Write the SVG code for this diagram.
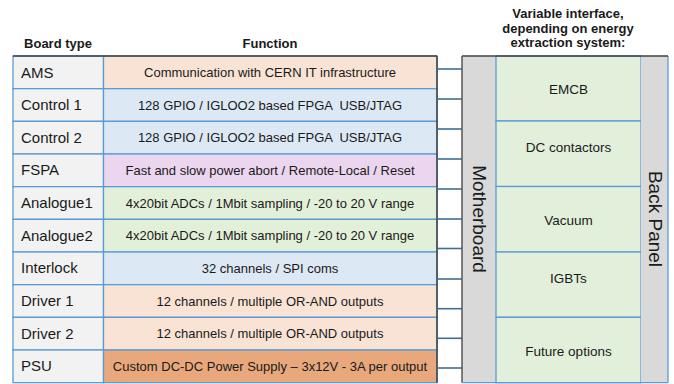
<svg xmlns="http://www.w3.org/2000/svg" width="674" height="384" viewBox="0 0 674 384">
<style>
text{font-family:"Liberation Sans",Arial,sans-serif;fill:#1a1a1a}
.hd{font-weight:bold;font-size:13px}
.bt{font-size:15px}
.fn{font-size:13px;text-anchor:middle}
.cell{stroke:#5b9bd5;stroke-width:1.3}
.name{fill:#f2f2f2}
.ci{font-size:13.5px;text-anchor:middle}
.big{font-size:19px;text-anchor:middle}
.conn line{stroke:#3f6f95;stroke-width:1.6}
</style>
<rect width="674" height="384" fill="#ffffff"/>
<g id="headers">
<text class="hd" x="58" y="48" text-anchor="middle">Board type</text>
<text class="hd" x="270" y="48" text-anchor="middle">Function</text>
<text class="hd" x="568" y="18" text-anchor="middle">Variable interface,</text>
<text class="hd" x="568" y="32.5" text-anchor="middle">depending on energy</text>
<text class="hd" x="568" y="47" text-anchor="middle">extraction system:</text>
</g>
<g id="table">
<g id="ams"><rect class="cell name" x="13" y="56" width="90.5" height="32.67"/><rect class="cell" x="103.5" y="56" width="333.5" height="32.67" fill="#f8e3d5"/><text class="bt" x="21" y="77.5">AMS</text><text class="fn" x="270" y="77">Communication with CERN IT infrastructure</text></g>
<g id="control1"><rect class="cell name" x="13" y="88.67" width="90.5" height="32.67"/><rect class="cell" x="103.5" y="88.67" width="333.5" height="32.67" fill="#dde8f5"/><text class="bt" x="21" y="110">Control 1</text><text class="fn" x="270" y="109.7" xml:space="preserve">128 GPIO / IGLOO2 based FPGA  USB/JTAG</text></g>
<g id="control2"><rect class="cell name" x="13" y="121.33" width="90.5" height="32.67"/><rect class="cell" x="103.5" y="121.33" width="333.5" height="32.67" fill="#dde8f5"/><text class="bt" x="21" y="142.7">Control 2</text><text class="fn" x="270" y="142.3" xml:space="preserve">128 GPIO / IGLOO2 based FPGA  USB/JTAG</text></g>
<g id="fspa"><rect class="cell name" x="13" y="154" width="90.5" height="32.67"/><rect class="cell" x="103.5" y="154" width="333.5" height="32.67" fill="#ecd5ee"/><text class="bt" x="21" y="175.4">FSPA</text><text class="fn" x="270" y="175">Fast and slow power abort / Remote-Local / Reset</text></g>
<g id="analogue1"><rect class="cell name" x="13" y="186.67" width="90.5" height="32.67"/><rect class="cell" x="103.5" y="186.67" width="333.5" height="32.67" fill="#e2efd9"/><text class="bt" x="21" y="208">Analogue1</text><text class="fn" x="270" y="207.7">4x20bit ADCs / 1Mbit sampling / -20 to 20 V range</text></g>
<g id="analogue2"><rect class="cell name" x="13" y="219.33" width="90.5" height="32.67"/><rect class="cell" x="103.5" y="219.33" width="333.5" height="32.67" fill="#e2efd9"/><text class="bt" x="21" y="240.7">Analogue2</text><text class="fn" x="270" y="240.3">4x20bit ADCs / 1Mbit sampling / -20 to 20 V range</text></g>
<g id="interlock"><rect class="cell name" x="13" y="252" width="90.5" height="32.67"/><rect class="cell" x="103.5" y="252" width="333.5" height="32.67" fill="#dde8f5"/><text class="bt" x="21" y="273.4">Interlock</text><text class="fn" x="270" y="273">32 channels / SPI coms</text></g>
<g id="driver1"><rect class="cell name" x="13" y="284.67" width="90.5" height="32.67"/><rect class="cell" x="103.5" y="284.67" width="333.5" height="32.67" fill="#f8e3d5"/><text class="bt" x="21" y="306">Driver 1</text><text class="fn" x="270" y="305.7">12 channels / multiple OR-AND outputs</text></g>
<g id="driver2"><rect class="cell name" x="13" y="317.33" width="90.5" height="32.67"/><rect class="cell" x="103.5" y="317.33" width="333.5" height="32.67" fill="#f8e3d5"/><text class="bt" x="21" y="338.7">Driver 2</text><text class="fn" x="270" y="338.3">12 channels / multiple OR-AND outputs</text></g>
<g id="psu"><rect class="cell name" x="13" y="350" width="90.5" height="32.67"/><rect class="cell" x="103.5" y="350" width="333.5" height="32.67" fill="#e8a87c"/><text class="bt" x="21" y="371.4">PSU</text><text class="fn" x="270" y="371">Custom DC-DC Power Supply – 3x12V - 3A per output</text></g>
<line x1="13" y1="56" x2="437" y2="56" stroke="#404040" stroke-width="1.5"/>
<line x1="437" y1="56" x2="437" y2="382.67" stroke="#404040" stroke-width="1.5"/>
</g>
<g class="conn" id="connectors">
<line x1="437" y1="69" x2="462" y2="69"/>
<line x1="437" y1="99" x2="462" y2="99"/>
<line x1="437" y1="129" x2="462" y2="129"/>
<line x1="437" y1="159" x2="462" y2="159"/>
<line x1="437" y1="189" x2="462" y2="189"/>
<line x1="437" y1="219" x2="462" y2="219"/>
<line x1="437" y1="248.5" x2="462" y2="248.5"/>
<line x1="437" y1="279" x2="462" y2="279"/>
<line x1="437" y1="308.7" x2="462" y2="308.7"/>
<line x1="437" y1="338.3" x2="462" y2="338.3"/>
<line x1="437" y1="368" x2="462" y2="368"/>
</g>
<g id="motherboard">
<rect x="462" y="56" width="34" height="326.67" fill="#d9d9d9"/>
<text class="big" transform="translate(479 219) rotate(90)" y="6.5">Motherboard</text>
</g>
<g id="interfaces">
<g id="emcb"><rect class="cell" x="496" y="56" width="145" height="65" fill="#e2efda"/><text class="ci" x="568.5" y="94">EMCB</text></g>
<g id="dc"><rect class="cell" x="496" y="121" width="145" height="65.5" fill="#e2efda"/><text class="ci" x="568.5" y="151.5">DC contactors</text></g>
<g id="vacuum"><rect class="cell" x="496" y="186.5" width="145" height="65.5" fill="#e2efda"/><text class="ci" x="568.5" y="224.5">Vacuum</text></g>
<g id="igbts"><rect class="cell" x="496" y="252" width="145" height="65.3" fill="#e2efda"/><text class="ci" x="568.5" y="282.5">IGBTs</text></g>
<g id="future"><rect class="cell" x="496" y="317.3" width="145" height="65.37" fill="#e2efda"/><text class="ci" x="568.5" y="355.5">Future options</text></g>
</g>
<g id="backpanel">
<rect x="641" y="56" width="27" height="326.67" fill="#d9d9d9"/>
<line x1="668" y1="56" x2="668" y2="382.67" stroke="#5b9bd5" stroke-width="1.3"/>
<text class="big" transform="translate(655 219) rotate(90)" y="6.5">Back Panel</text>
</g>
<g id="frame">
<line x1="462" y1="56" x2="668" y2="56" stroke="#404040" stroke-width="1.5"/>
<line x1="462" y1="56" x2="462" y2="382.67" stroke="#555555" stroke-width="1.5"/>
<line x1="462" y1="382.67" x2="668" y2="382.67" stroke="#5b9bd5" stroke-width="1.3"/>
</g>
</svg>
